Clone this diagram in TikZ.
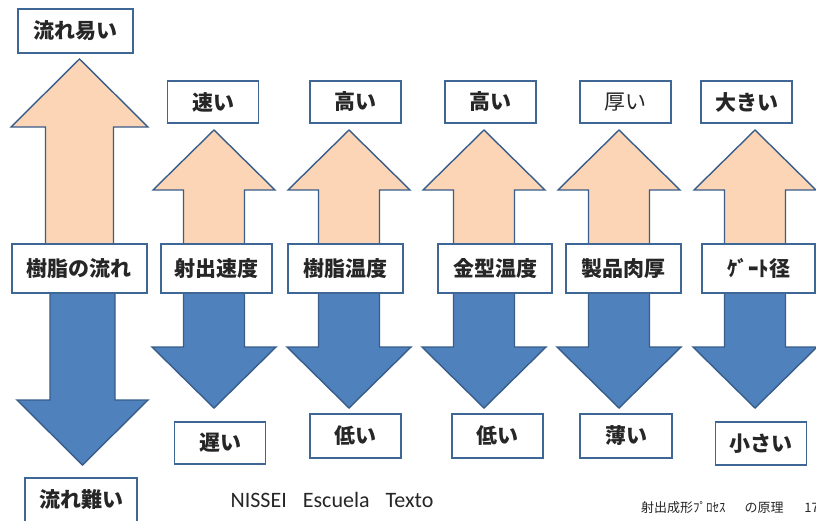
\documentclass[tikz,border=0pt]{standalone}
\usepackage{fontspec}
\newfontfamily\jp{Noto Sans CJK JP}
\newfontfamily\calibrifont{Carlito}
\definecolor{peach}{HTML}{FBD5B5}
\definecolor{bluefill}{HTML}{4F81BD}
\definecolor{edge}{HTML}{385D8A}
\definecolor{boxedge}{HTML}{3F6796}
\tikzset{
  uparrow/.style={fill=peach, draw=edge, line width=1.4pt, line join=miter},
  downarrow/.style={fill=bluefill, draw=edge, line width=1.4pt, line join=miter},
  labelbox/.style={draw=boxedge, fill=white, line width=1.8pt, inner sep=0pt,
     font=\jp\bfseries\fontsize{21}{24}\selectfont, text=black!85},
  topbox/.style={labelbox, minimum width=91pt, minimum height=42pt},
  midbox/.style={labelbox, minimum height=49pt},
}
\newcommand\uparr[6]{% cx, tip y, head base y, half wing, half shaft, shaft end y
  \filldraw[uparrow] (#1,#2) -- (#1+#4,#3) -- (#1+#5,#3) -- (#1+#5,#6) -- (#1-#5,#6) -- (#1-#5,#3) -- (#1-#4,#3) -- cycle;}
\newcommand\downarr[6]{% cx, tip y, head base y, half wing, half shaft, shaft start y
  \filldraw[downarrow] (#1,#2) -- (#1+#4,#3) -- (#1+#5,#3) -- (#1+#5,#6) -- (#1-#5,#6) -- (#1-#5,#3) -- (#1-#4,#3) -- cycle;}
\begin{document}
\begin{tikzpicture}[x=1pt, y=-1pt]
\useasboundingbox (0,0) rectangle (816,520);
% left arrows
\uparr{79.5}{59}{127}{68.5}{34}{255}
\downarr{82.5}{465}{400}{65.5}{32.5}{285}
% column arrows
\foreach \cx in {214,349,484,619,755} {
  \uparr{\cx}{130}{190}{61}{30.5}{255}
  \downarr{\cx}{408}{347}{62}{30.5}{285}
}
% left boxes
\node[labelbox, minimum width=115pt, minimum height=44pt] (easy) at (75.5,31) {流れ易い};
\node[midbox, minimum width=135pt] (flow) at (79.5,268.5) {樹脂の流れ};
\node[labelbox, minimum width=112pt, minimum height=44pt] (hard) at (81,500) {流れ難い};
% middle boxes
\node[midbox, minimum width=111pt] (speed) at (216.5,268.5) {射出速度};
\node[midbox, minimum width=115pt] (rtemp) at (345.5,268.5) {樹脂温度};
\node[midbox, minimum width=114pt] (mtemp) at (495,268.5) {金型温度};
\node[midbox, minimum width=115pt] (thick) at (623.5,268.5) {製品肉厚};
\node[midbox, minimum width=113pt] (gate) at (758.5,268.5) {ｹﾞｰﾄ径};
% top boxes
\node[topbox] (fast) at (213,102) {速い};
\node[topbox] (rhigh) at (355.5,102) {高い};
\node[topbox] (mhigh) at (490.5,102) {高い};
\node[topbox, font=\jp\fontsize{21}{24}\selectfont] (thk) at (625.5,102) {厚い};
\node[topbox] (big) at (746.5,102) {大きい};
% bottom boxes
\node[topbox] (slow) at (220,443) {遅い};
\node[topbox, minimum height=44pt] (rlow) at (355.5,436) {低い};
\node[topbox, minimum height=44pt] (mlow) at (497.5,436) {低い};
\node[topbox, minimum height=44pt, minimum width=92pt] (thin) at (626,436) {薄い};
\node[topbox, minimum height=43pt] (small) at (761,443.5) {小さい};
% footer
\node[font=\calibrifont\fontsize{22}{24}\selectfont, text=black!85, inner sep=0pt] (footer) at (332,500) {NISSEI\hspace{0.73em}Escuela\hspace{0.73em}Texto};
\node[font=\jp\fontsize{13}{15}\selectfont, text=black!85, inner sep=0pt, anchor=west] (page) at (641,508) {射出成形ﾌﾟﾛｾｽ\hspace{1.45em}の原理\hspace{1.6em}17};
\end{tikzpicture}
\end{document}
